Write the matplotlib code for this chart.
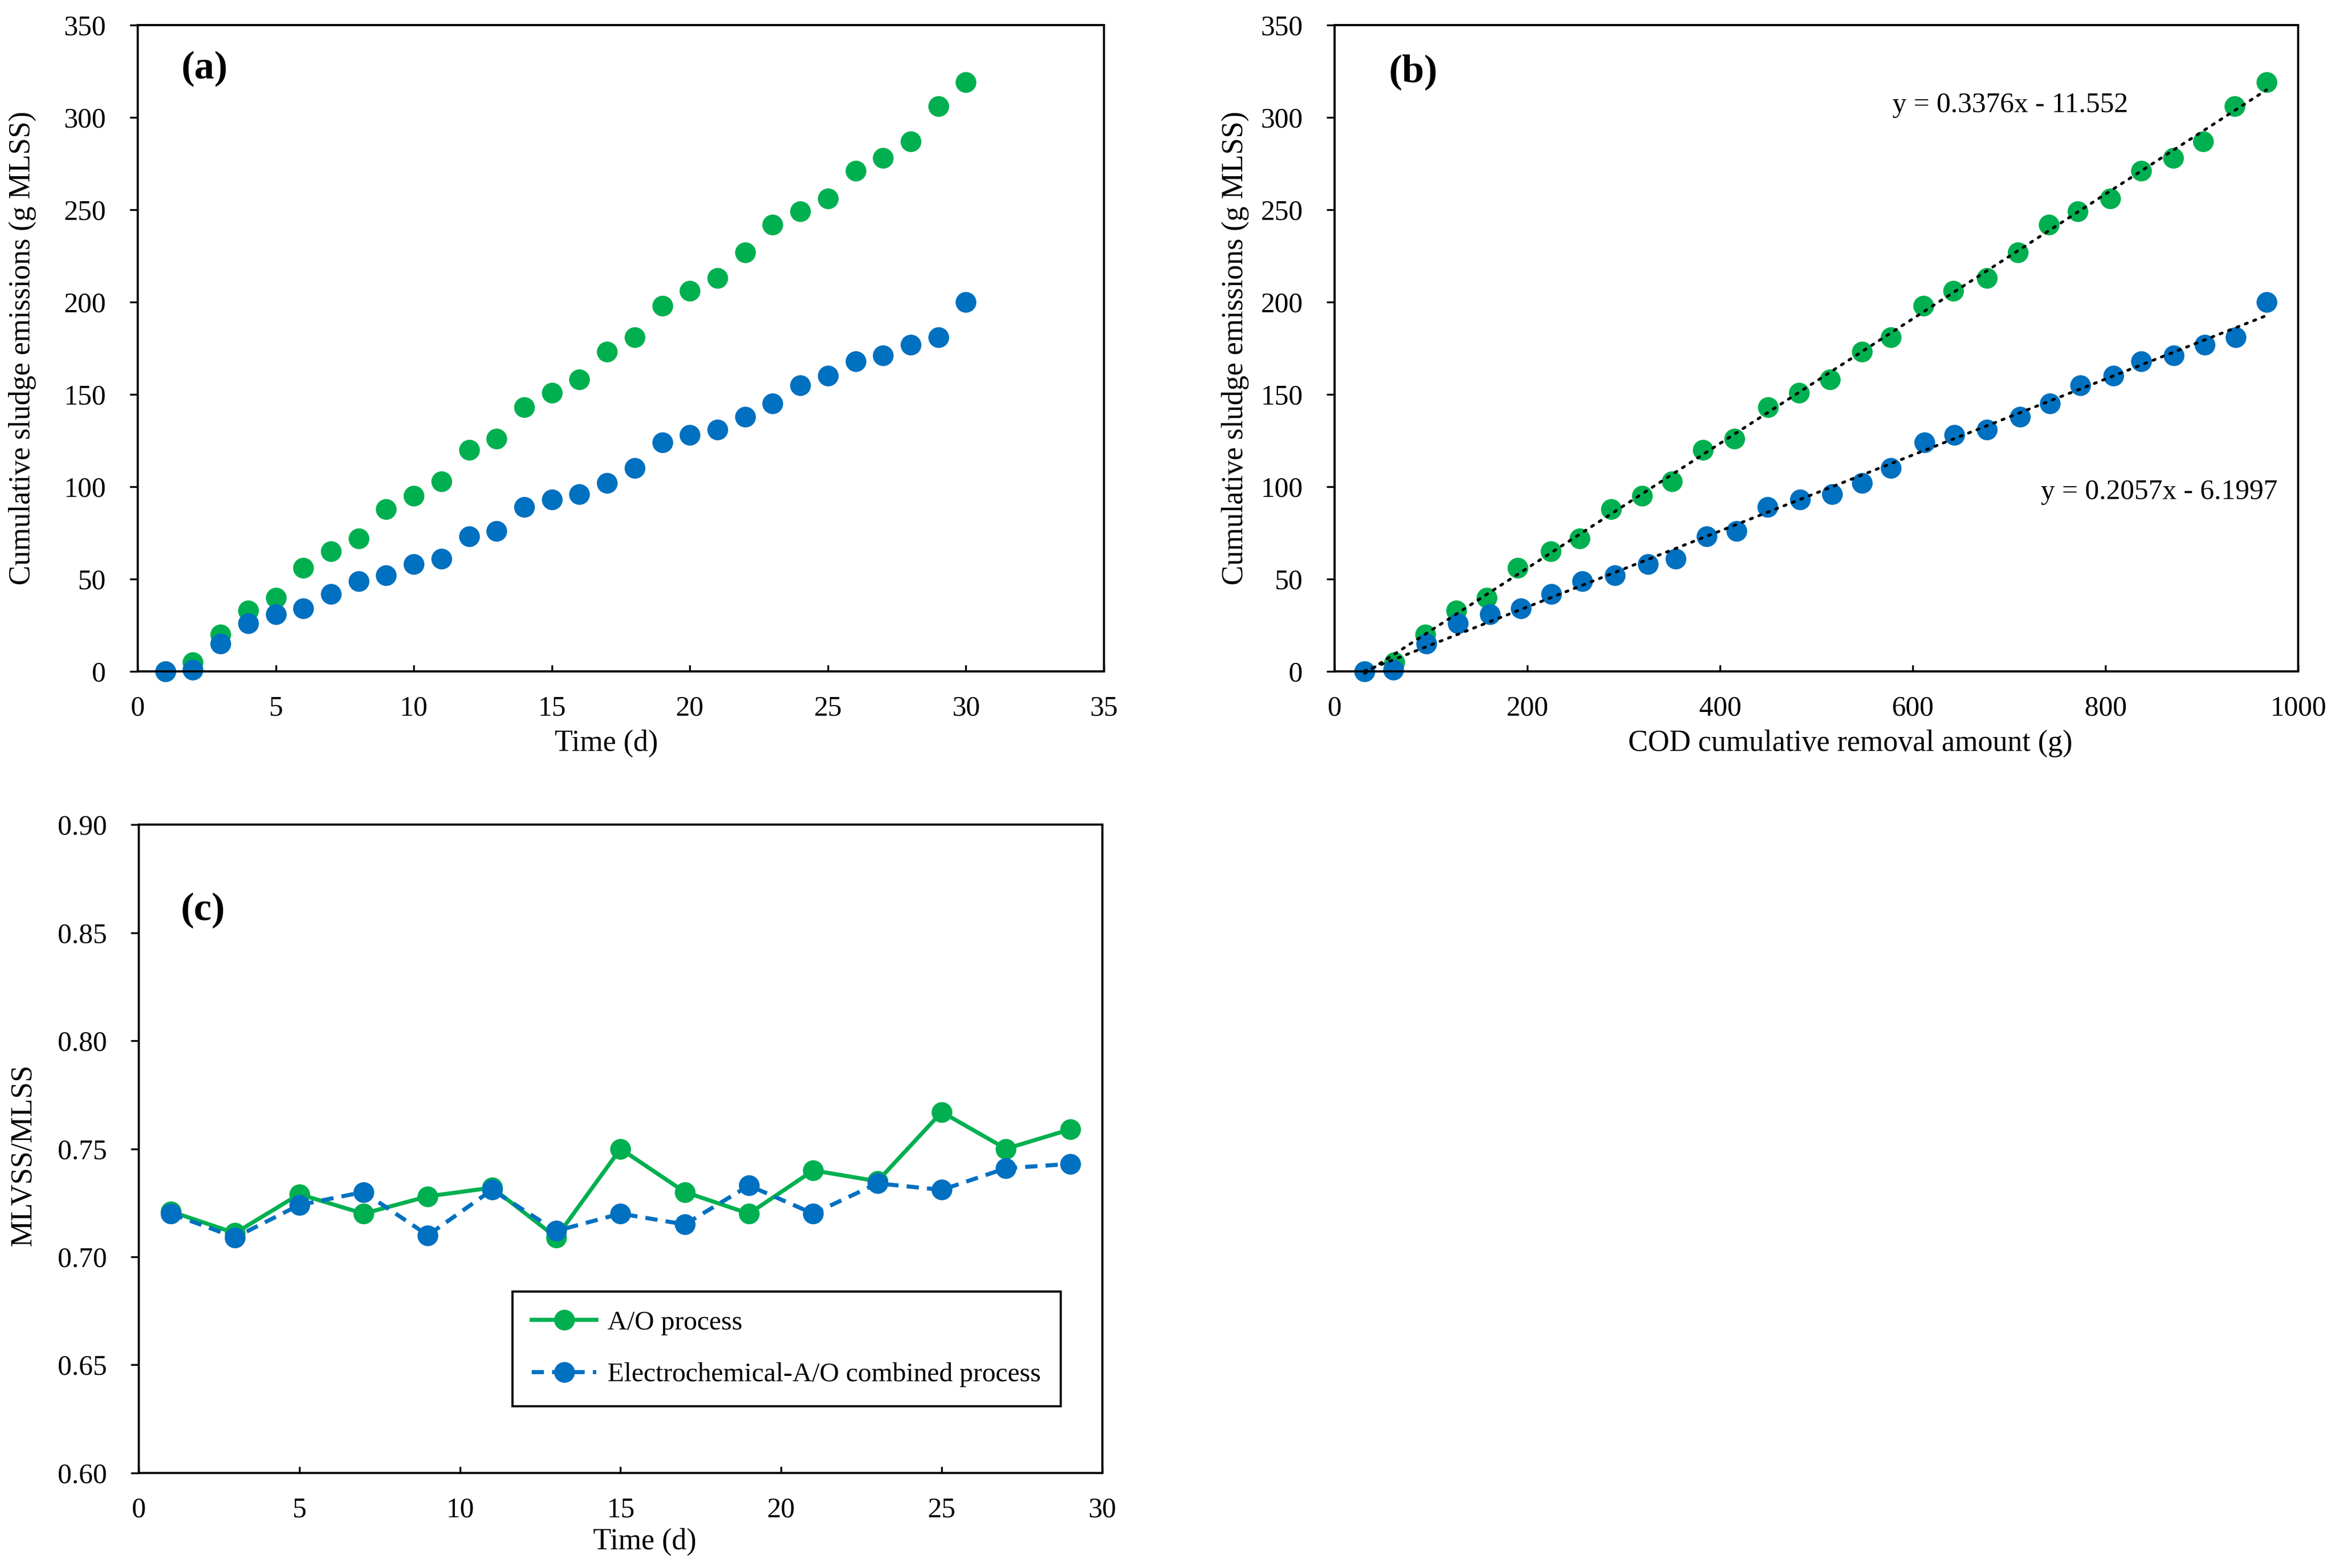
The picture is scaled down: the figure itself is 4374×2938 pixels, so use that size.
import matplotlib
matplotlib.use('Agg')
import matplotlib.pyplot as plt
import numpy as np

plt.rcParams['font.family'] = ['Liberation Serif', 'DejaVu Serif']

GREEN = '#00B050'
BLUE = '#0070C0'

# --- data: (a) cumulative sludge emissions vs time ---
days = list(range(1, 31))
ao_sludge = [0, 5, 20, 33, 40, 56, 65, 72, 88, 95, 103, 120, 126, 143, 151,
             158, 173, 181, 198, 206, 213, 227, 242, 249, 256, 271, 278, 287, 306, 319]
ec_sludge = [0, 1, 15, 26, 31, 34, 42, 49, 52, 58, 61, 73, 76, 89, 93,
             96, 102, 110, 124, 128, 131, 138, 145, 155, 160, 168, 171, 177, 181, 200]

# --- data: (b) vs COD cumulative removal ---
ao_cod = [31, 62, 94, 126, 158, 190, 224, 254, 287, 319, 350, 382, 415, 450, 482,
          514, 547, 577, 611, 642, 677, 709, 741, 771, 805, 837, 870, 901, 934, 967]
ec_cod = [31, 61, 95, 128, 161, 193, 225, 257, 291, 325, 354, 386, 417, 449, 483,
          516, 547, 577, 612, 643, 677, 711, 742, 774, 808, 837, 871, 903, 935, 967]
ao_fit = (0.3376, -11.552)
ec_fit = (0.2057, -6.1997)
ao_eq = 'y = 0.3376x - 11.552'
ec_eq = 'y = 0.2057x - 6.1997'

# --- data: (c) MLVSS/MLSS ---
days_c = list(range(1, 30, 2))
ao_ratio = [0.721, 0.711, 0.729, 0.720, 0.728, 0.732, 0.709, 0.750, 0.730, 0.720,
            0.740, 0.735, 0.767, 0.750, 0.759]
ec_ratio = [0.720, 0.709, 0.724, 0.730, 0.710, 0.731, 0.712, 0.720, 0.715, 0.733,
            0.720, 0.734, 0.731, 0.741, 0.743]

FS = 38
YFS = 40
PFS = 54
MS = 28


def style_axes(ax):
    for sp in ax.spines.values():
        sp.set_linewidth(2.9)
        sp.set_color('black')
    ax.tick_params(axis='y', direction='out', length=11, width=2.5, pad=32, labelsize=FS)
    ax.tick_params(axis='x', direction='in', length=9, width=2.5, pad=33, labelsize=FS)


fig = plt.figure(figsize=(43.74, 29.38), dpi=100)

# (a)
ax1 = fig.add_axes([0.0590, 0.5718, 0.4138, 0.4122])
ax1.plot(days, ao_sludge, 'o', color=GREEN, ms=MS, mec='none', clip_on=False)
ax1.plot(days, ec_sludge, 'o', color=BLUE, ms=MS, mec='none', clip_on=False)
ax1.set_xlim(0, 35)
ax1.set_ylim(0, 350)
ax1.set_xticks(np.arange(0, 36, 5))
ax1.set_yticks(np.arange(0, 351, 50))
style_axes(ax1)
ax1.set_xlabel('Time (d)', fontsize=YFS)
ax1.set_ylabel('Cumulative sludge emissions (g MLSS)', fontsize=YFS)
ax1.xaxis.set_label_coords(0.485, -0.09)
ax1.yaxis.set_label_coords(-0.105, 0.5)
ax1.text(0.045, 0.96, '(a)', transform=ax1.transAxes, fontsize=PFS,
         fontweight='bold', ha='left', va='top')

# (b)
ax2 = fig.add_axes([0.5716, 0.5718, 0.4127, 0.4122])
ax2.plot(ao_cod, ao_sludge, 'o', color=GREEN, ms=MS, mec='none', clip_on=False)
ax2.plot(ec_cod, ec_sludge, 'o', color=BLUE, ms=MS, mec='none', clip_on=False)
for xs, (k, b) in ((ao_cod, ao_fit), (ec_cod, ec_fit)):
    xx = np.array([xs[0], xs[-1]])
    ax2.plot(xx, k * xx + b, linestyle=(0, (0.8, 2.4)), color='black', lw=3.8,
             dash_capstyle='round', clip_on=False)
ax2.text(579, 306.6, ao_eq, fontsize=FS, ha='left', va='center')
ax2.text(733, 97.1, ec_eq, fontsize=FS, ha='left', va='center')
ax2.set_xlim(0, 1000)
ax2.set_ylim(0, 350)
ax2.set_xticks(np.arange(0, 1001, 200))
ax2.set_yticks(np.arange(0, 351, 50))
style_axes(ax2)
ax2.set_xlabel('COD cumulative removal amount (g)', fontsize=YFS)
ax2.set_ylabel('Cumulative sludge emissions (g MLSS)', fontsize=YFS)
ax2.xaxis.set_label_coords(0.535, -0.09)
ax2.yaxis.set_label_coords(-0.089, 0.5)
ax2.text(0.056, 0.955, '(b)', transform=ax2.transAxes, fontsize=PFS,
         fontweight='bold', ha='left', va='top')

# (c)
ax3 = fig.add_axes([0.0594, 0.0606, 0.4127, 0.4135])
ax3.plot(days_c, ao_ratio, '-o', color=GREEN, ms=MS, mec='none', lw=5.5,
         label='A/O process')
ax3.plot(days_c, ec_ratio, 'o', linestyle=(0, (3, 2)), color=BLUE, ms=MS,
         mec='none', lw=5.5, label='Electrochemical-A/O combined process')
ax3.set_xlim(0, 30)
ax3.set_ylim(0.60, 0.90)
ax3.set_xticks(np.arange(0, 31, 5))
ax3.set_yticks(np.arange(0.60, 0.901, 0.05))
ax3.set_yticklabels([f'{v:.2f}' for v in np.arange(0.60, 0.901, 0.05)])
style_axes(ax3)
ax3.set_xlabel('Time (d)', fontsize=YFS)
ax3.set_ylabel('MLVSS/MLSS', fontsize=YFS)
ax3.xaxis.set_label_coords(0.525, -0.085)
ax3.yaxis.set_label_coords(-0.105, 0.49)
ax3.text(0.044, 0.895, '(c)', transform=ax3.transAxes, fontsize=PFS,
         fontweight='bold', ha='left', va='top')
leg = ax3.legend(loc='lower left', bbox_to_anchor=(0.388, 0.103, 0.569, 0.175),
                 mode='expand', fontsize=36.5, fancybox=False, framealpha=1,
                 edgecolor='black', handlelength=2.4, handletextpad=0.4,
                 labelspacing=1.0, borderpad=0.7, borderaxespad=0)
leg.get_frame().set_linewidth(2.9)

fig.savefig('out.png', dpi=100)
